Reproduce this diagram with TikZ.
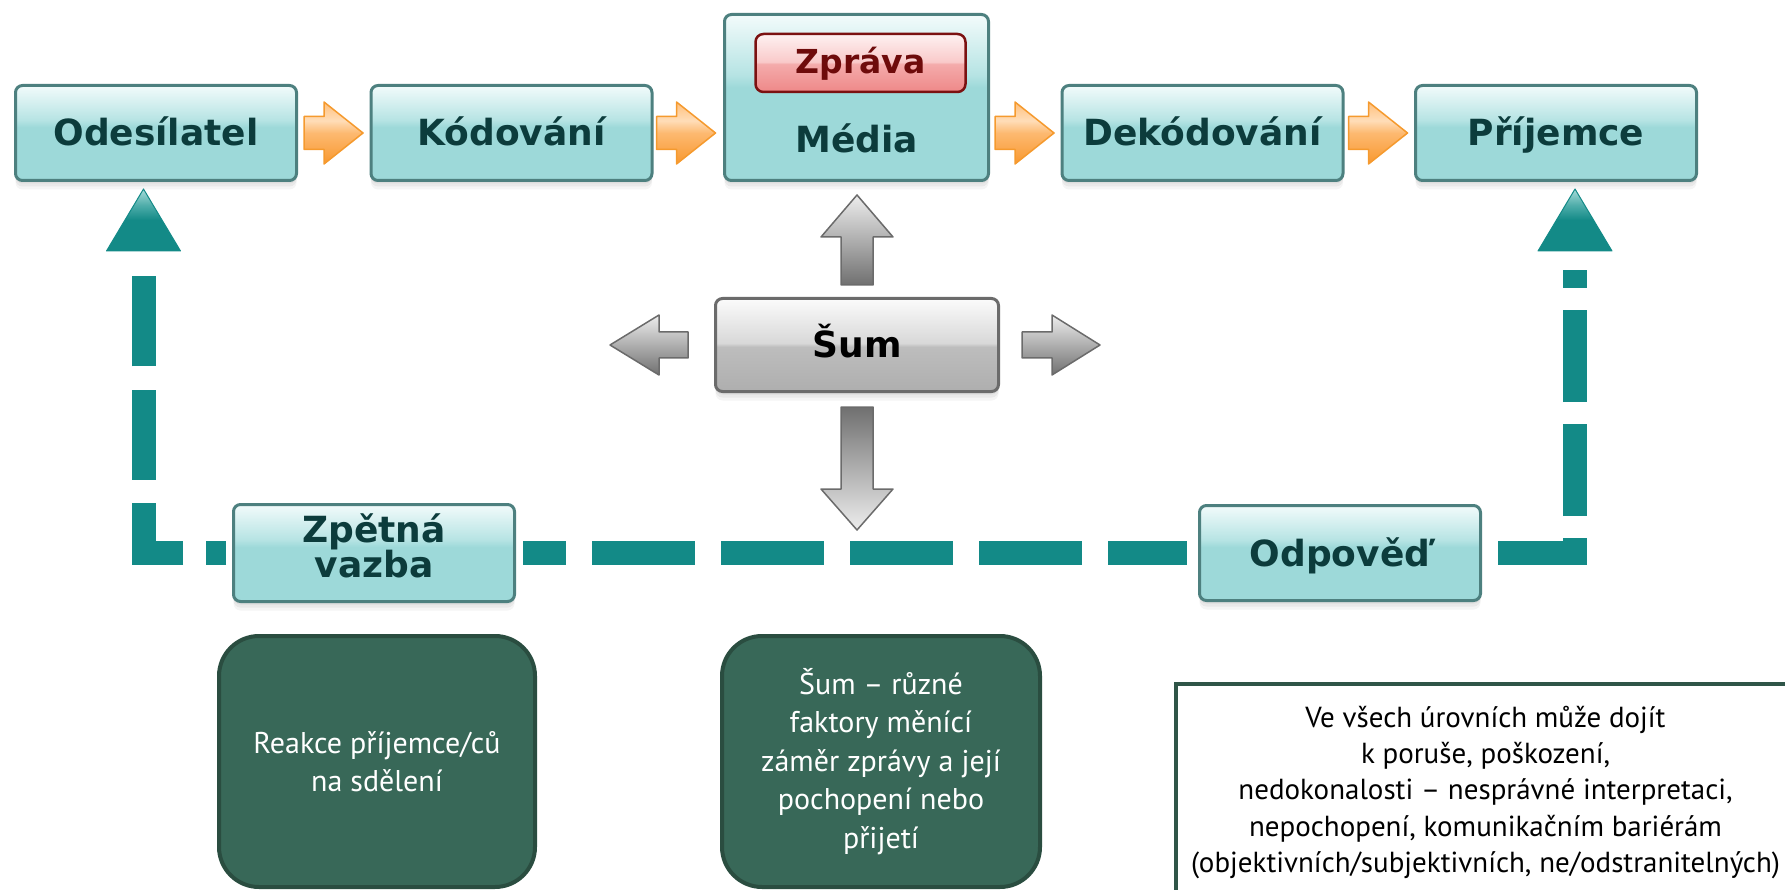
\documentclass[tikz,border=0pt]{standalone}
\usepackage{fontspec}
\setmainfont{PT Sans}
\newfontfamily\lblfont{DejaVu Sans}
\usetikzlibrary{calc}

\definecolor{tealB}{HTML}{9DD9D9}
\definecolor{tealM}{HTML}{B7E4E4}
\definecolor{tealT}{HTML}{F2FBFB}
\definecolor{tealBorder}{HTML}{4D807F}
\definecolor{tealText}{HTML}{0C3C3C}
\definecolor{dashTeal}{HTML}{138A87}
\definecolor{triM}{HTML}{4FADAA}
\definecolor{triT}{HTML}{A8DCDA}
\definecolor{grayB}{HTML}{AEAEAE}
\definecolor{grayL}{HTML}{BDBDBD}
\definecolor{grayM}{HTML}{D8D8D8}
\definecolor{grayT}{HTML}{FBFBFB}
\definecolor{grayBorder}{HTML}{6B6B6B}
\definecolor{gArrL}{HTML}{EDEDED}
\definecolor{gArrD}{HTML}{707070}
\definecolor{redB}{HTML}{EE8888}
\definecolor{redL}{HTML}{F4ABAB}
\definecolor{redM}{HTML}{F9CACA}
\definecolor{redT}{HTML}{FEF1F1}
\definecolor{redBorder}{HTML}{7B1111}
\definecolor{redText}{HTML}{6E0B0B}
\definecolor{orB}{HTML}{F8982F}
\definecolor{orM}{HTML}{FDB970}
\definecolor{orL}{HTML}{FFDDB8}
\definecolor{orT}{HTML}{FFC07C}
\definecolor{orBorder}{HTML}{F59A2E}
\definecolor{boxGreen}{HTML}{386858}
\definecolor{boxGreenBorder}{HTML}{2A4D40}
\definecolor{noteBorder}{HTML}{2F5548}

\pgfdeclareverticalshading{tealgloss}{100bp}{color(0bp)=(tealB); color(25bp)=(tealB); color(53bp)=(tealB); color(57bp)=(tealM); color(75bp)=(tealT); color(100bp)=(tealT)}
\pgfdeclareverticalshading{graygloss}{100bp}{color(0bp)=(grayB); color(25bp)=(grayB); color(49bp)=(grayL); color(51bp)=(grayM); color(75bp)=(grayT); color(100bp)=(grayT)}
\pgfdeclareverticalshading{redgloss}{100bp}{color(0bp)=(redB); color(25bp)=(redB); color(49bp)=(redL); color(51bp)=(redM); color(75bp)=(redT); color(100bp)=(redT)}
\pgfdeclareverticalshading{orgloss}{100bp}{color(0bp)=(orB); color(25bp)=(orB); color(50bp)=(orM); color(60bp)=(orL); color(75bp)=(orT); color(100bp)=(orT)}
\pgfdeclareverticalshading{trigloss}{100bp}{color(0bp)=(dashTeal); color(25bp)=(dashTeal); color(50bp)=(dashTeal); color(62bp)=(triM); color(75bp)=(triT); color(100bp)=(triT)}

\tikzset{
  softshadow/.style={
    preaction={fill=black, opacity=.05, transform canvas={yshift=-3pt}},
    preaction={fill=black, opacity=.05, transform canvas={yshift=-6pt}},
    preaction={fill=black, opacity=.04, transform canvas={yshift=-9pt}}},
  lblfnt/.style={font=\lblfont\bfseries\fontsize{36}{35}\selectfont},
  tealbox/.style={draw=tealBorder, line width=3pt, rounded corners=7pt, shade, shading=tealgloss,
    text=tealText, lblfnt, minimum width=281pt, minimum height=95pt, inner sep=0pt, softshadow},
  capt/.style={text height=26pt, text depth=0pt},
  lbl/.style={text=tealText, lblfnt, inner sep=0pt},
  zprbox/.style={draw=redBorder, line width=2.5pt, rounded corners=8pt, shade, shading=redgloss,
    text=redText, font=\lblfont\bfseries\fontsize{33}{35}\selectfont, minimum width=210pt,
    minimum height=58pt, inner sep=0pt, text height=22pt, text depth=0pt},
  graybox/.style={draw=grayBorder, line width=3pt, rounded corners=7pt, shade, shading=graygloss,
    text=black, lblfnt, minimum width=283pt, minimum height=93pt, inner sep=0pt, capt, softshadow},
  greenbox/.style={draw=boxGreenBorder, line width=4pt, fill=boxGreen, rounded corners=40pt,
    text=white, font=\fontsize{30}{38.5}\selectfont, align=center, inner sep=0pt},
  notebox/.style={draw=noteBorder, line width=4pt, fill=white, text=black,
    font=\fontsize{29}{36.3}\selectfont, align=center, inner sep=0pt},
  orarrow/.style={draw=orBorder, line width=1.5pt, shade, shading=orgloss, line join=round},
  grarrow/.style={draw=grayBorder, line width=1.5pt, line join=round},
  triangle/.style={shade, shading=trigloss, draw=dashTeal, line width=1pt, line join=round},
  feedback/.style={draw=dashTeal, line width=24pt, line join=miter, line cap=butt},
  oarrow/.pic={\path[orarrow] (0,-16.5) -- (20,-16.5) -- (20,-31) -- (59,0) -- (20,31) -- (20,16.5) -- (0,16.5) -- cycle;}
}

\begin{document}
\begin{tikzpicture}[x=1pt,y=-1pt]
\useasboundingbox (0,0) rectangle (1785,890);
\clip (0,0) rectangle (1785,890);

% top row
\node[tealbox, capt] (odes) at (156,133) {Odesílatel};
\node[tealbox, capt] (kod) at (511.5,133) {Kódování};
\node[tealbox, minimum width=264pt, minimum height=166pt] (media) at (856.5,97.5) {};
\node[zprbox] (zpr) at (860.5,63) {Zpráva};
\node[lbl, capt] (mediaT) at (856.5,140) {Média};
\node[tealbox, capt] (dek) at (1202.5,133) {Dekódování};
\node[tealbox, capt] (prij) at (1556,133) {Příjemce};

% orange arrows
\pic at ($(odes.east)+(6,0)$) {oarrow};
\pic at ($(kod.east)+(3,0)$) {oarrow};
\pic at ($(media.east |- odes.east)+(5,0)$) {oarrow};
\pic at ($(dek.east)+(4,0)$) {oarrow};

% noise
\node[graybox] (sum) at (857,345) {Šum};
\path[grarrow, top color=gArrL, bottom color=gArrD]
  (841,285) -- (841,237) -- (821,237) -- (857,195) -- (893,237) -- (873,237) -- (873,285) -- cycle;
\path[grarrow, top color=gArrD, bottom color=gArrL]
  (841,407) -- (873,407) -- (873,489) -- (893,489) -- (857,530) -- (821,489) -- (841,489) -- cycle;
\path[grarrow, top color=gArrL, bottom color=gArrD]
  (688,332) -- (659,332) -- (659,315) -- (610,345) -- (659,375) -- (659,358) -- (688,358) -- cycle;
\path[grarrow, top color=gArrL, bottom color=gArrD]
  (1022,332) -- (1052,332) -- (1052,315) -- (1100,345) -- (1052,375) -- (1052,358) -- (1022,358) -- cycle;

% feedback triangles
\coordinate (triLb) at (143.5,251);
\coordinate (triRb) at (1575,251);
\path[triangle] (143.5,189) -- (180.5,251) -- (106.5,251) -- cycle;
\path[triangle] (1575,189) -- (1612,251) -- (1538,251) -- cycle;

% bottom row
\node[tealbox, minimum height=97pt] (zpet) at (374,553) {};
\node[lbl, align=center, font=\lblfont\bfseries\fontsize{36}{35}\selectfont] (zpetT) at (374,546) {Zpětná\\vazba};
\node[tealbox, capt] (odp) at (1340,553) {Odpověď};

% dashed feedback loop
\draw[feedback, dash pattern=on 90pt off 23pt, dash phase=70pt]
  ($(zpet.west)+(-6,0)$) -| ($(triLb)+(0,22)$);
\draw[feedback, dash pattern=on 103pt off 26pt, dash phase=60pt]
  ($(zpet.east)+(7,0)$) -- ($(odp.west)+(-11,0)$);
\draw[feedback, dash pattern=on 92pt off 22pt]
  ($(odp.east)+(16,0)$) -| ($(triRb)+(0,19)$);

% notes
\node[greenbox, minimum width=316pt, minimum height=251pt] (reakce) at (377,761.5)
  {Reakce příjemce/ců\\na sdělení};
\node[greenbox, minimum width=318pt, minimum height=251pt] (sumnote) at (881,761.5)
  {Šum – různé\\faktory měnící\\záměr zprávy a její\\pochopení nebo\\přijetí};
\node[notebox, minimum width=619pt, minimum height=217pt] (urovne) at (1485.5,792.5)
  {Ve všech úrovních může dojít\\k poruše, poškození,\\nedokonalosti – nesprávné interpretaci,\\nepochopení, komunikačním bariérám\\(objektivních/subjektivních, ne/odstranitelných)};
\end{tikzpicture}
\end{document}
